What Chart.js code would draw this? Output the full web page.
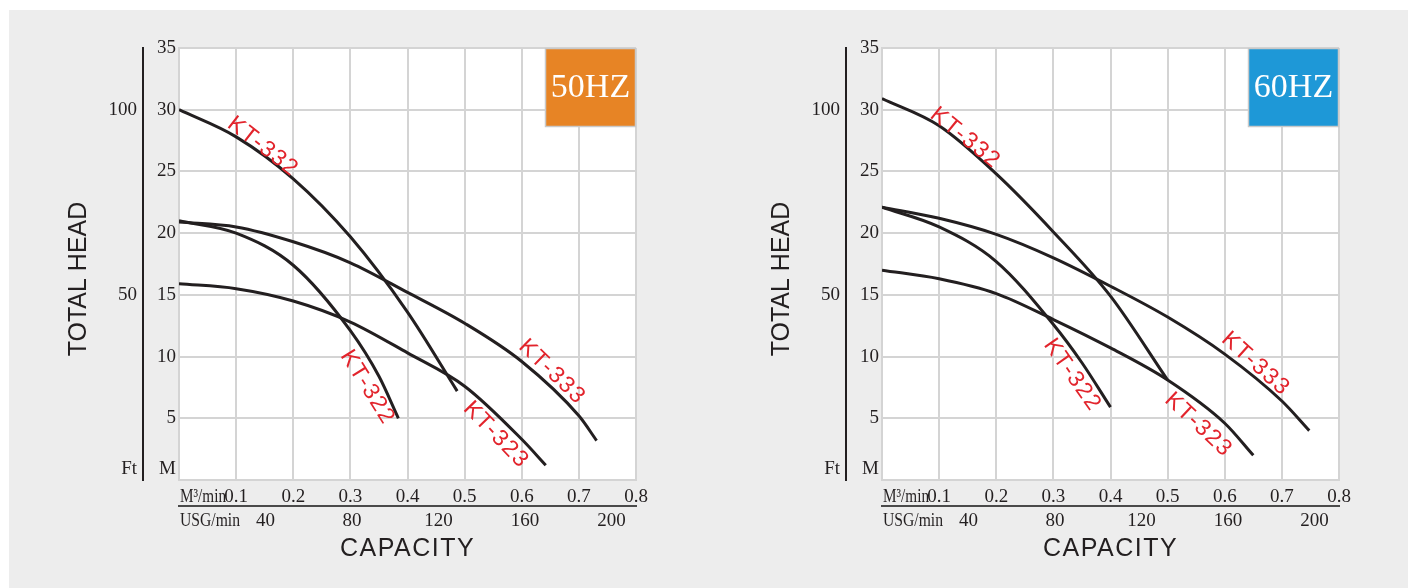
<!DOCTYPE html>
<html>
<head>
<meta charset="utf-8">
<script src="https://cdn.jsdelivr.net/npm/chart.js@4.4.0/dist/chart.umd.min.js"></script>
<style>
  body { margin: 0; background: #fff; width: 1408px; height: 588px; overflow: hidden; position: relative; }
  #bg { position: absolute; left: 9px; top: 10px; right: 0; bottom: 0; background: #ededed; }
  canvas { position: absolute; top: 0; }
</style>
</head>
<body>
<div id="bg"></div>
<canvas id="chart50" width="704" height="588" style="left:0"></canvas>
<canvas id="chart60" width="704" height="588" style="left:703px"></canvas>
<script>
// capacity in m3/min (x), total head in metres (y)
const usgTicks = [40, 80, 120, 160, 200];
const ftTicks = [0, 50, 100];

// 50HZ curves
const kt332_50 = [[0, 30], [0.1, 27.8], [0.2, 24.4], [0.3, 19.7], [0.4, 13.6], [0.487, 7.2]];
const kt333_50 = [[0, 20.9], [0.1, 20.5], [0.2, 19.3], [0.3, 17.6], [0.4, 15.2], [0.5, 12.7], [0.6, 9.6], [0.7, 5.2], [0.731, 3.2]];
const kt322_50 = [[0, 21], [0.1, 20.0], [0.2, 17.4], [0.3, 12.1], [0.35, 8.4], [0.384, 5.0]];
const kt323_50 = [[0, 15.9], [0.1, 15.5], [0.2, 14.5], [0.3, 12.8], [0.4, 10.3], [0.5, 7.6], [0.6, 3.3], [0.642, 1.2]];

// 60HZ curves
const kt332_60 = [[0, 30.9], [0.1, 28.7], [0.2, 24.8], [0.3, 20.1], [0.4, 14.9], [0.5, 8.1]];
const kt333_60 = [[0, 22.1], [0.1, 21.2], [0.2, 19.9], [0.3, 18.0], [0.4, 15.7], [0.5, 13.2], [0.6, 10.2], [0.7, 6.4], [0.748, 4.0]];
const kt322_60 = [[0, 22.1], [0.1, 20.5], [0.2, 17.7], [0.3, 12.6], [0.35, 9.5], [0.4, 5.9]];
const kt323_60 = [[0, 17.0], [0.1, 16.3], [0.2, 15.1], [0.3, 13.0], [0.4, 10.7], [0.5, 8.1], [0.6, 4.6], [0.65, 2.0]];

// curve name tags (anchor in data units, rotation in degrees)
const tags50 = [
    { text: 'KT-332', x: 0.147, y: 27.0, angle: 38 },
    { text: 'KT-322', x: 0.330, y: 7.5, angle: 58 },
    { text: 'KT-323', x: 0.555, y: 3.65, angle: 46 },
    { text: 'KT-333', x: 0.653, y: 8.75, angle: 44 }
];
const tags60 = [
    { text: 'KT-332', x: 0.146, y: 27.7, angle: 39 },
    { text: 'KT-322', x: 0.333, y: 8.5, angle: 55 },
    { text: 'KT-323', x: 0.554, y: 4.45, angle: 43 },
    { text: 'KT-333', x: 0.654, y: 9.4, angle: 42 }
];

const M3_PER_USG = 0.003785;
const SERIF = '"Liberation Serif", "Times New Roman", serif';
const SANS = '"Liberation Sans", Arial, sans-serif';
const INK = '#231f20';
const GRID = '#d4d4d4';

const decorPlugin = {
    id: 'decor',
    beforeDraw(chart) {
        const { ctx, chartArea: a } = chart;
        ctx.save();
        ctx.fillStyle = '#fff';
        ctx.fillRect(a.left, a.top, a.right - a.left, a.bottom - a.top);
        ctx.restore();
    },
    afterDatasetsDraw(chart, args, opts) {
        const { ctx, chartArea: a } = chart;
        const xs = chart.scales.x, ys = chart.scales.y;
        ctx.save();

        // curve names
        ctx.fillStyle = '#e2242c';
        ctx.font = '23px ' + SANS;
        ctx.letterSpacing = '1.5px';
        ctx.textAlign = 'center';
        ctx.textBaseline = 'middle';
        opts.tags.forEach(t => {
            ctx.save();
            ctx.translate(xs.getPixelForValue(t.x), ys.getPixelForValue(t.y));
            ctx.rotate(t.angle * Math.PI / 180);
            ctx.fillText(t.text, 0, 0);
            ctx.restore();
        });
        ctx.letterSpacing = '0px';

        // frequency badge
        const bw = 91, bh = 79;
        ctx.fillStyle = opts.badgeColor;
        ctx.fillRect(a.right - bw, a.top, bw, bh);
        ctx.strokeStyle = '#c9c9c9';
        ctx.lineWidth = 1.5;
        ctx.strokeRect(a.right - bw + 0.5, a.top + 0.5, bw - 1, bh - 1);
        ctx.fillStyle = '#fff';
        ctx.font = '34px ' + SERIF;
        ctx.fillText(opts.badge, a.right - bw / 2, a.top + bh / 2 + 1);

        // unit captions under the plot
        ctx.fillStyle = INK;
        ctx.font = '19px ' + SERIF;
        ctx.textAlign = 'left';
        ctx.fillText('M³/min', a.left + 1, a.bottom + 17, 46);
        ctx.fillText('USG/min', a.left + 1, a.bottom + 41, 60);

        // axis titles
        ctx.font = '25px ' + SANS;
        ctx.textAlign = 'center';
        ctx.save();
        ctx.translate(a.left - 100, a.top + 231);
        ctx.rotate(-Math.PI / 2);
        ctx.fillText('TOTAL HEAD', 0, 0);
        ctx.restore();
        ctx.letterSpacing = '1.5px';
        ctx.fillText('CAPACITY', (a.left + a.right) / 2, a.bottom + 69);
        ctx.restore();
    }
};

function toPoints(arr) {
    return arr.map(p => ({ x: p[0], y: p[1] }));
}

function makeChart(id, curves, tags, badge, badgeColor) {
    const tickFont = { family: SERIF, size: 19 };
    new Chart(document.getElementById(id), {
        type: 'line',
        data: {
            datasets: curves.map(c => ({
                label: c.name,
                data: toPoints(c.data),
                borderColor: INK,
                borderWidth: 3,
                pointRadius: 0,
                fill: false,
                cubicInterpolationMode: 'monotone'
            }))
        },
        options: {
            responsive: false,
            animation: false,
            events: [],
            layout: { padding: { top: 48, right: 68, bottom: 0, left: 0 } },
            plugins: {
                legend: { display: false },
                tooltip: { enabled: false },
                decor: { tags: tags, badge: badge, badgeColor: badgeColor }
            },
            scales: {
                x: {
                    type: 'linear', position: 'bottom', min: 0, max: 0.8, weight: 0,
                    ticks: {
                        stepSize: 0.1, padding: 6, color: INK, font: tickFont,
                        maxRotation: 0, autoSkip: false,
                        callback: v => v === 0 ? '' : v.toFixed(1)
                    },
                    grid: { color: GRID, lineWidth: 2, drawTicks: false },
                    border: { color: GRID, width: 2 },
                    afterFit: s => { s.height = 26; }
                },
                usg: {
                    type: 'linear', position: 'bottom', min: 0, max: 0.8 / M3_PER_USG, weight: 1,
                    afterBuildTicks: s => { s.ticks = usgTicks.map(v => ({ value: v })); },
                    ticks: { padding: 4, color: INK, font: tickFont, maxRotation: 0, autoSkip: false },
                    grid: { display: false, drawTicks: false },
                    border: { color: '#4a4a4a', width: 2 },
                    afterFit: s => { s.height = 82; }
                },
                y: {
                    type: 'linear', position: 'left', min: 0, max: 35, weight: 0,
                    ticks: {
                        stepSize: 5, padding: 3, color: INK, font: tickFont,
                        callback: v => v === 0 ? ['M', ''] : v
                    },
                    grid: { color: GRID, lineWidth: 2, drawTicks: false },
                    border: { color: GRID, width: 2 },
                    afterFit: s => { s.width = 36; }
                },
                ft: {
                    type: 'linear', position: 'left', min: 0, max: 35 * 100 / 30, weight: 1,
                    afterBuildTicks: s => { s.ticks = ftTicks.map(v => ({ value: v })); },
                    ticks: {
                        padding: 6, color: INK, font: tickFont,
                        callback: v => v === 0 ? ['Ft', ''] : v
                    },
                    grid: { display: false, drawTicks: false },
                    border: { color: INK, width: 2 },
                    afterFit: s => { s.width = 143; }
                }
            }
        },
        plugins: [decorPlugin]
    });
}

makeChart('chart50', [
    { name: 'KT-332', data: kt332_50 },
    { name: 'KT-333', data: kt333_50 },
    { name: 'KT-322', data: kt322_50 },
    { name: 'KT-323', data: kt323_50 }
], tags50, '50HZ', '#e78425');

makeChart('chart60', [
    { name: 'KT-332', data: kt332_60 },
    { name: 'KT-333', data: kt333_60 },
    { name: 'KT-322', data: kt322_60 },
    { name: 'KT-323', data: kt323_60 }
], tags60, '60HZ', '#1e98d7');
</script>
</body>
</html>
